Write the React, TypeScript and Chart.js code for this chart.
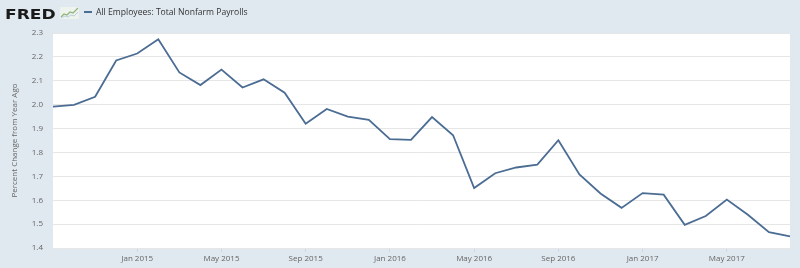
import React, { useEffect, useRef } from "react";
import { Chart, registerables } from "chart.js";

Chart.register(...registerables);

const months = [
  "Sep 2014", "Oct 2014", "Nov 2014", "Dec 2014",
  "Jan 2015", "Feb 2015", "Mar 2015", "Apr 2015", "May 2015", "Jun 2015", "Jul 2015", "Aug 2015",
  "Sep 2015", "Oct 2015", "Nov 2015", "Dec 2015",
  "Jan 2016", "Feb 2016", "Mar 2016", "Apr 2016", "May 2016", "Jun 2016", "Jul 2016", "Aug 2016",
  "Sep 2016", "Oct 2016", "Nov 2016", "Dec 2016",
  "Jan 2017", "Feb 2017", "Mar 2017", "Apr 2017", "May 2017", "Jun 2017", "Jul 2017", "Aug 2017",
];

const payrollsPctChange = [
  1.992, 1.999, 2.033, 2.185,
  2.214, 2.274, 2.135, 2.082, 2.147, 2.072, 2.106, 2.05,
  1.92, 1.982, 1.95, 1.936,
  1.856, 1.853, 1.948, 1.872, 1.651, 1.713, 1.737, 1.749,
  1.851, 1.708, 1.628, 1.568,
  1.63, 1.623, 1.497, 1.534, 1.603, 1.539, 1.466, 1.449,
];

const seriesTitle = "All Employees: Total Nonfarm Payrolls";
const yAxisTitle = "Percent Change from Year Ago";
const yMin = 1.4;
const yMax = 2.3;
const yStep = 0.1;
const labelEvery = 4;
const firstLabelIndex = 4;

const FONT = "'Open Sans', 'DejaVu Sans', sans-serif";

const plotBackground = {
  id: "plotBackground",
  beforeDraw(chart: any) {
    const { ctx, chartArea } = chart;
    if (!chartArea) return;
    ctx.save();
    ctx.fillStyle = "#ffffff";
    ctx.fillRect(chartArea.left, chartArea.top, chartArea.right - chartArea.left, chartArea.bottom - chartArea.top);
    ctx.restore();
  },
};

const isLabeled = (i: number) => i >= firstLabelIndex && (i - firstLabelIndex) % labelEvery === 0;

export default function App() {
  const canvasRef = useRef<HTMLCanvasElement | null>(null);

  useEffect(() => {
    document.body.style.margin = "0";
    const canvas = canvasRef.current;
    if (!canvas) return;
    const chart = new Chart(canvas, {
      type: "line",
      data: {
        labels: months,
        datasets: [
          {
            label: seriesTitle,
            data: payrollsPctChange,
            borderColor: "#4b6c93",
            borderWidth: 1.8,
            pointRadius: 0,
            tension: 0,
            fill: false,
          },
        ],
      },
      options: {
        animation: false,
        responsive: false,
        maintainAspectRatio: false,
        devicePixelRatio: 1,
        layout: { padding: { top: 33, right: 10, left: 0, bottom: 0 } },
        plugins: {
          legend: { display: false },
          tooltip: { enabled: false },
        },
        scales: {
          x: {
            type: "category",
            offset: false,
            grid: {
              drawOnChartArea: false,
              drawTicks: true,
              tickLength: 4,
              color: (ctx: any) => (isLabeled(ctx.index) ? "#ccd6eb" : "rgba(0,0,0,0)"),
            },
            border: { display: false },
            ticks: {
              autoSkip: false,
              maxRotation: 0,
              minRotation: 0,
              padding: 2,
              color: "#666666",
              font: { family: FONT, size: 8 },
              callback: (_v: any, i: number) => (isLabeled(i) ? months[i] : ""),
            },
            afterFit: (scale: any) => {
              scale.height = 20;
            },
          },
          y: {
            min: yMin,
            max: yMax,
            grid: { color: "#e6e6e6", drawTicks: false, lineWidth: 1 },
            border: { display: false },
            ticks: {
              stepSize: yStep,
              padding: 10,
              color: "#666666",
              font: { family: FONT, size: 8 },
              callback: (v: any) => Number(v).toFixed(1),
            },
            title: {
              display: true,
              text: yAxisTitle,
              color: "#666666",
              font: { family: FONT, size: 8 },
              padding: { top: 10, bottom: 0 },
            },
            afterFit: (scale: any) => {
              scale.width = 53;
            },
          },
        },
      },
      plugins: [plotBackground],
    });
    return () => chart.destroy();
  }, []);

  return (
    <div
      style={{
        position: "fixed",
        left: 0,
        top: 0,
        width: 800,
        height: 268,
        background: "#e1e9f0",
        overflow: "hidden",
      }}
    >
      <canvas ref={canvasRef} width={800} height={268} style={{ position: "absolute", left: 0, top: 0, width: 800, height: 268 }} />
      <div
        style={{
          position: "absolute",
          left: 5,
          top: 7,
          lineHeight: "14px",
          fontFamily: "'DejaVu Sans', sans-serif",
          fontWeight: 900,
          fontSize: 14,
          color: "#1a1a1a",
          transform: "scaleX(1.22)",
          transformOrigin: "left top",
          whiteSpace: "nowrap",
        }}
      >
        FRED
      </div>
      <svg width="19" height="12" viewBox="0 0 19 12" style={{ position: "absolute", left: 60, top: 7 }}>
        <rect x="0" y="0" width="19" height="12" fill="#eef3ee" />
        <polyline points="1,10 4,7 7,8 10,5 13,6 18,1" fill="none" stroke="#8fb47a" strokeWidth="1.2" />
        <polyline points="1,11 5,9 8,10 11,8 14,9 18,5" fill="none" stroke="#b9cfe0" strokeWidth="1" />
      </svg>
      <div style={{ position: "absolute", left: 84, top: 11, width: 8, height: 2, background: "#4b6c93" }} />
      <div
        style={{
          position: "absolute",
          left: 96,
          top: 7,
          lineHeight: "10px",
          fontFamily: FONT,
          fontSize: 8.6,
          color: "#333333",
          whiteSpace: "nowrap",
        }}
      >
        {seriesTitle}
      </div>
    </div>
  );
}
